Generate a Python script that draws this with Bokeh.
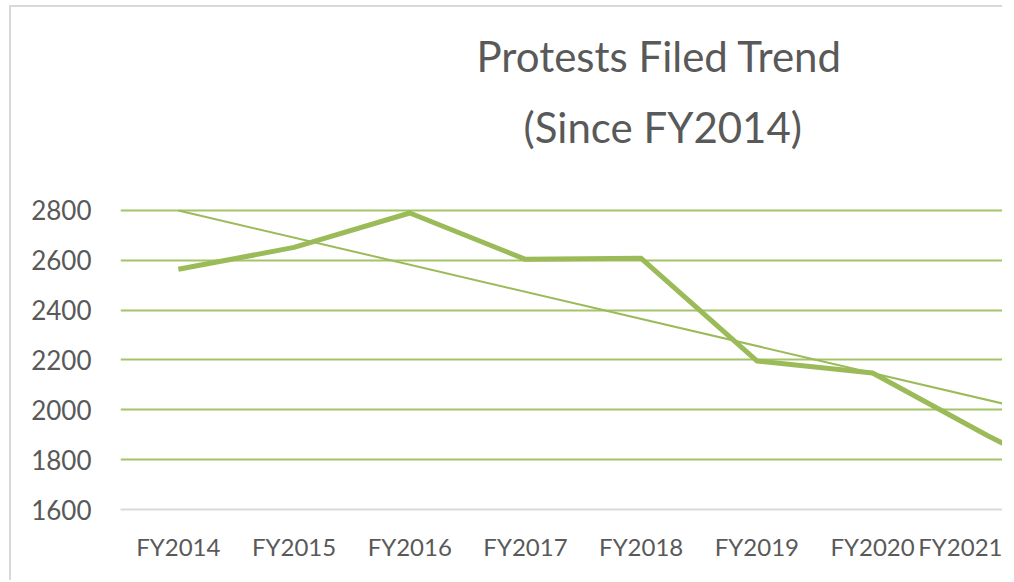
from bokeh.plotting import figure
from bokeh.models import Range1d, FixedTicker, Title
from bokeh.embed import file_html
from bokeh.resources import INLINE

# ---- data ----
categories = ["FY2014", "FY2015", "FY2016", "FY2017", "FY2018",
              "FY2019", "FY2020", "FY2021", "FY2022"]
protests = [2564, 2652, 2790, 2604, 2608, 2196, 2148, 1895, 1660]
trend_first = 2800   # linear trendline value at first category
trend_last = 1930    # linear trendline value at last category
y_ticks = [1600, 1800, 2000, 2200, 2400, 2600, 2800]
title_lines = ["Protests Filed Trend", "(Since FY2014)"]

FONT = "Lato"
GRAY = "#595959"
GREEN = "#9BBB59"
GRID = "#A5C46A"
LIGHT = "#D9D9D9"

x = list(range(len(categories)))

p = figure(width=993, height=575, output_backend="svg", toolbar_location=None,
           x_range=Range1d(-0.5, 7.14), y_range=Range1d(1600, 2812),
           min_border_left=109, min_border_right=0,
           min_border_top=200, min_border_bottom=73)
p.styles = {"border-top": f"2px solid {LIGHT}", "border-left": f"2px solid {LIGHT}",
            "margin-left": "9px", "margin-top": "5px"}

p.background_fill_color = "white"
p.border_fill_color = "white"
p.outline_line_color = None

# title: spacer closest to the frame, then line 2, then line 1
title_kw = dict(align="left", text_font=FONT, text_font_size="42px",
                text_color=GRAY, text_font_style="normal")
p.add_layout(Title(text=" ", align="left", text_font_size="10px", standoff=38), "above")
p.add_layout(Title(text=title_lines[1], offset=403, standoff=10, **title_kw), "above")
p.add_layout(Title(text=title_lines[0], offset=356, standoff=28, **title_kw), "above")

# x axis
p.xaxis.ticker = FixedTicker(ticks=x)
p.xaxis.major_label_overrides = {i: c for i, c in zip(x, categories)}
p.xaxis.axis_line_color = LIGHT
p.xaxis.axis_line_width = 2
p.xaxis.major_tick_out = 0
p.xaxis.major_tick_in = 0
p.xaxis.major_tick_line_color = None
p.xaxis.minor_tick_line_color = None
p.xaxis.major_label_standoff = 22
p.xaxis.major_label_text_font = FONT
p.xaxis.major_label_text_font_size = "24px"
p.xaxis.major_label_text_color = GRAY

# y axis
p.yaxis.ticker = FixedTicker(ticks=y_ticks)
p.yaxis.axis_line_color = None
p.yaxis.major_tick_out = 0
p.yaxis.major_tick_in = 0
p.yaxis.major_tick_line_color = None
p.yaxis.minor_tick_line_color = None
p.yaxis.major_label_standoff = 29
p.yaxis.major_label_text_font = FONT
p.yaxis.major_label_text_font_size = "26px"
p.yaxis.major_label_text_color = GRAY

p.xgrid.grid_line_color = None
p.ygrid.ticker = FixedTicker(ticks=y_ticks[1:])
p.ygrid.grid_line_color = GRID
p.ygrid.grid_line_width = 2

# series
p.line([x[0], x[-1]], [trend_first, trend_last], line_width=2, color=GREEN)
p.line(x, protests, line_width=5, color=GREEN, line_join="round")

open("out.html", "w").write(file_html(p, INLINE))
